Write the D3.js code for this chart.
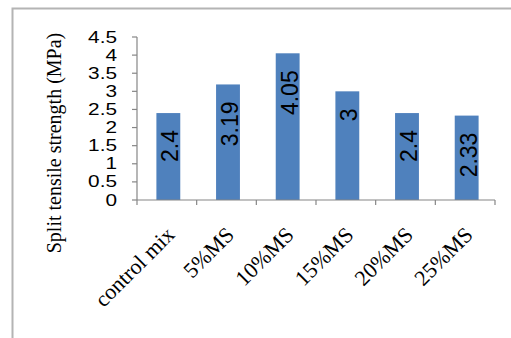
<!DOCTYPE html>
<html>
<head>
<meta charset="utf-8">
<script src="https://cdn.jsdelivr.net/npm/d3@7"></script>
<style>
  html, body { margin: 0; padding: 0; background: #fff; }
  svg { display: block; }
</style>
</head>
<body>
<svg id="chart" width="511" height="338"></svg>
<script>
// Split tensile strength for each mix
const categories = ["control mix", "5%MS", "10%MS", "15%MS", "20%MS", "25%MS"];
const strength = [2.4, 3.19, 4.05, 3, 2.4, 2.33];
const yTickValues = [0, 0.5, 1, 1.5, 2, 2.5, 3, 3.5, 4, 4.5];
const yTitle = "Split tensile strength (MPa)";

const svg = d3.select("#chart");
const axisColor = "#868686";
const barColor = "#4f81bd";

// outer chart frame
svg.append("rect")
  .attr("x", 12.5).attr("y", 8.5)
  .attr("width", 520).attr("height", 360)
  .attr("fill", "none")
  .attr("stroke", "#b4b4b4")
  .attr("stroke-width", 2);

const x = d3.scaleBand()
  .domain(categories)
  .range([137, 495])
  .paddingInner(0.6)
  .paddingOuter(0.3);

const y = d3.scaleLinear().domain([0, 4.5]).range([200, 37]);

// bars
svg.append("g").selectAll("rect")
  .data(strength)
  .join("rect")
  .attr("x", (d, i) => x(categories[i]) + 1.5)
  .attr("y", d => y(d))
  .attr("width", x.bandwidth())
  .attr("height", d => y(0) - y(d))
  .attr("fill", barColor);

// value labels, rotated, inside the bars
svg.append("g").selectAll("text")
  .data(strength)
  .join("text")
  .attr("transform", (d, i) => {
    const cx = x(categories[i]) + 1.5 + x.bandwidth() / 2;
    return `translate(${cx + 10},${y(d) + 17}) rotate(-90)`;
  })
  .attr("text-anchor", "end")
  .attr("font-family", "'Liberation Sans', Arial, sans-serif")
  .attr("font-size", 23)
  .attr("fill", "#000")
  .text(d => String(d));

// y axis
const step = x.step();
const yAxis = svg.append("g").attr("stroke", axisColor).attr("stroke-width", 1.2);
yAxis.append("line")
  .attr("x1", 137).attr("x2", 137)
  .attr("y1", y(4.5)).attr("y2", y(0));
yAxis.selectAll("line.tick")
  .data(yTickValues)
  .join("line")
  .attr("class", "tick")
  .attr("x1", 132).attr("x2", 137)
  .attr("y1", d => y(d)).attr("y2", d => y(d));

svg.append("g").selectAll("text")
  .data(yTickValues)
  .join("text")
  .attr("transform", d => `translate(117,${y(d)}) scale(1.3,1)`)
  .attr("text-anchor", "end")
  .attr("dominant-baseline", "central")
  .attr("font-family", "'Liberation Sans', Arial, sans-serif")
  .attr("font-size", 16)
  .attr("fill", "#000")
  .text(d => String(d));

// x axis with ticks between categories
const xAxis = svg.append("g").attr("stroke", axisColor).attr("stroke-width", 1.2);
xAxis.append("line")
  .attr("x1", x.range()[0]).attr("x2", x.range()[1])
  .attr("y1", y(0)).attr("y2", y(0));
const boundaries = [x.range()[0]].concat(categories.map(c => x(c) + x.bandwidth() / 2 + step / 2));
xAxis.selectAll("line.tick")
  .data(boundaries)
  .join("line")
  .attr("class", "tick")
  .attr("x1", d => d).attr("x2", d => d)
  .attr("y1", y(0)).attr("y2", y(0) + 5);

// category labels at 45 degrees
svg.append("g").selectAll("text")
  .data(categories)
  .join("text")
  .attr("transform", c => `translate(${x(c) + x.bandwidth() / 2 + 9},236) rotate(-45)`)
  .attr("text-anchor", "end")
  .attr("font-family", "'Liberation Serif', 'Times New Roman', serif")
  .attr("font-size", 22)
  .attr("fill", "#000")
  .text(c => c);

// y axis title
svg.append("text")
  .attr("transform", "translate(61,143) rotate(-90)")
  .attr("text-anchor", "middle")
  .attr("font-family", "'Liberation Serif', 'Times New Roman', serif")
  .attr("font-size", 20)
  .attr("fill", "#000")
  .text(yTitle);
</script>
</body>
</html>
